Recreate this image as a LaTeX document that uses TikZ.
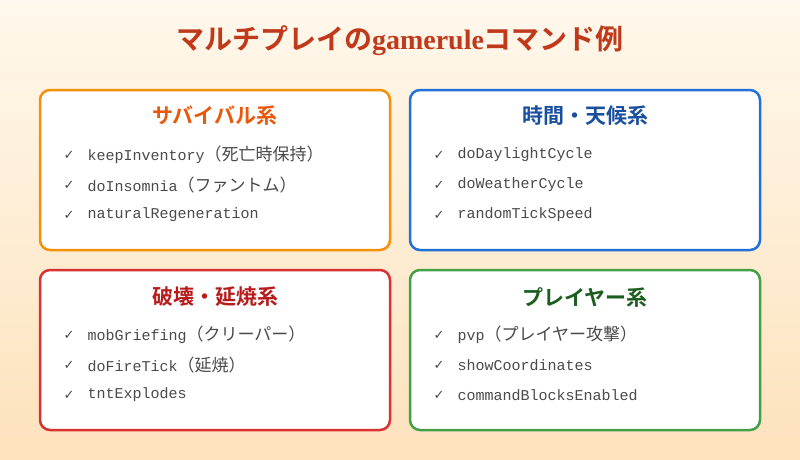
\documentclass[tikz,border=0pt]{standalone}
\usepackage{fontspec}
\setmonofont{Liberation Mono}
\newfontfamily\cjk{Noto Sans CJK JP}
\newfontfamily\cjkb{Noto Sans CJK JP Bold}
\newfontfamily\titleser{Liberation Serif}
\newfontfamily\symb{DejaVu Sans}
\definecolor{bgtop}{HTML}{FFF8EC}
\definecolor{bgbot}{HTML}{FDE2BC}
\definecolor{titlered}{HTML}{C0391B}
\definecolor{itemgray}{HTML}{4A4A4A}
\definecolor{survline}{HTML}{F5900A}
\definecolor{survtext}{HTML}{E8590C}
\definecolor{timeline}{HTML}{2171D6}
\definecolor{timetext}{HTML}{1A4FA0}
\definecolor{breakline}{HTML}{D83232}
\definecolor{breaktext}{HTML}{B71C1C}
\definecolor{playline}{HTML}{43A047}
\definecolor{playtext}{HTML}{1B5E20}
\tikzset{
  groupbox/.style={line width=2.5pt, fill=white, rounded corners=10pt},
  grouptitle/.style={font=\cjkb\fontsize{21}{23}\selectfont},
  checkmark/.style={text=itemgray, font=\symb\fontsize{13}{14}\selectfont},
  itemtext/.style={text=itemgray, anchor=west, font=\ttfamily\fontsize{15}{17}\selectfont},
}
\newcommand{\jp}[1]{{\cjk\fontsize{17}{19}\selectfont #1}}
\begin{document}
\begin{tikzpicture}[x=1pt, y=-1pt]
  \shade[top color=bgtop, bottom color=bgbot] (0,0) rectangle (800,460);
  \useasboundingbox (0,0) rectangle (800,460);

  \node (title) at (400,41) [text=titlered, font=\fontsize{28}{30}\selectfont]
    {{\cjkb マルチプレイの}{\titleser\bfseries gamerule}{\cjkb コマンド例}};

  % boxes
  \draw [groupbox, draw=survline] (40,90) rectangle (390,250);
  \draw [groupbox, draw=timeline] (410,90) rectangle (760,250);
  \draw [groupbox, draw=breakline] (40,270) rectangle (390,430);
  \draw [groupbox, draw=playline] (410,270) rectangle (760,430);

  \node (surv title) at (215,116) [grouptitle, text=survtext] {サバイバル系};
  \node (time title) at (585,116) [grouptitle, text=timetext] {時間・天候系};
  \node (break title) at (215,297) [grouptitle, text=breaktext] {破壊・延焼系};
  \node (play title) at (585,297) [grouptitle, text=playtext] {プレイヤー系};

  % items
  \foreach \x/\y/\t in {
      40/155/{keepInventory\jp{（死亡時保持）}},
      40/185/{doInsomnia\jp{（ファントム）}},
      40/215/{naturalRegeneration},
      410/155/{doDaylightCycle},
      410/185/{doWeatherCycle},
      410/215/{randomTickSpeed},
      40/335/{mobGriefing\jp{（クリーパー）}},
      40/365/{doFireTick\jp{（延焼）}},
      40/395/{tntExplodes},
      410/335/{pvp\jp{（プレイヤー攻撃）}},
      410/365/{showCoordinates},
      410/395/{commandBlocksEnabled}} {
    \node [checkmark] at (\x+29,\y) {✓};
    \node [itemtext] at (\x+44,\y) {\t};
  }
\end{tikzpicture}
\end{document}
